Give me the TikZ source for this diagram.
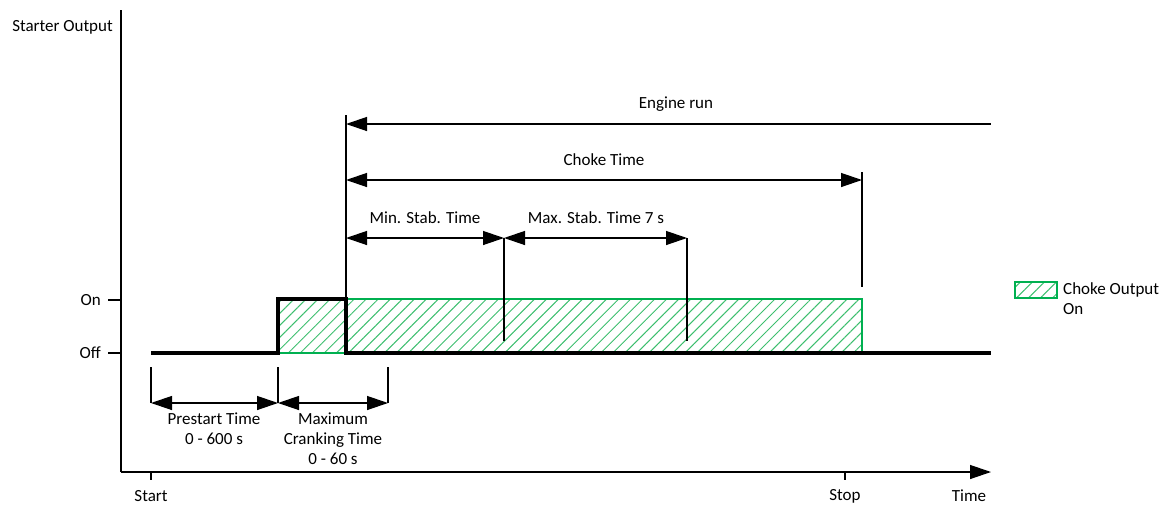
\documentclass[tikz,border=0pt]{standalone}
\usepackage{fontspec}
\setmainfont{Carlito}
\usetikzlibrary{arrows.meta,patterns.meta}
\definecolor{chokegreen}{RGB}{0,176,80}
\definecolor{hatchgreen}{RGB}{60,190,110}
\tikzset{
  lbl/.style={inner sep=0pt, font=\fontsize{17}{20}\selectfont, align=center},
  thin/.style={line width=1.3pt, black},
  thick signal/.style={line width=3.5pt, black, line join=miter},
  dim/.style={thin, {Triangle[length=21pt,width=14pt]}-{Triangle[length=21pt,width=14pt]}},
  dimleft/.style={thin, {Triangle[length=21pt,width=14pt]}-},
  axis/.style={thin, -{Triangle[length=21pt,width=14pt]}},
  choke/.style={draw=chokegreen, line width=1.3pt, pattern={Lines[angle=45,distance=8.5pt,line width=1pt]}, pattern color=hatchgreen},
}
\begin{document}
\begin{tikzpicture}[x=1pt,y=-1pt]
\useasboundingbox (0,0) rectangle (1173,509);
% axes
\coordinate (o) at (121,472);
\coordinate (ytop) at (121,10);
\coordinate (xend) at (991,472);
\draw[thin] (o) -- (ytop);
\draw[axis] (o) -- (xend);
\node[lbl, anchor=east] (ylab) at (113,27) {Starter Output};
% on/off ticks
\coordinate (onl) at (108,300); \coordinate (onr) at (121,300);
\coordinate (offl) at (108,353); \coordinate (offr) at (121,353);
\draw[thin] (onl) -- (onr);
\draw[thin] (offl) -- (offr);
\node[lbl, anchor=east] (on) at (101,300) {On};
\node[lbl, anchor=east] (off) at (101,353) {Off};
% start/stop ticks
\coordinate (st1) at (151,472); \coordinate (st2) at (151,480);
\coordinate (sp1) at (845,472); \coordinate (sp2) at (845,480);
\draw[thin] (st1) -- (st2);
\draw[thin] (sp1) -- (sp2);
\node[lbl] (start) at (151,496) {Start};
\node[lbl] (stop) at (845,496) {Stop};
\node[lbl] (time) at (969,496) {Time};
% choke hatch
\path[choke] (278,299) rectangle (862,353);
% starter signal
\coordinate (s0) at (151,353);
\coordinate (s1) at (278,353);
\coordinate (s2) at (278,299);
\coordinate (s3) at (346,299);
\coordinate (s4) at (346,353);
\coordinate (s5) at (991,353);
\draw[thick signal] (s0) -- (s1) -- (s2) -- (s3) -- (s4) -- (s5);
% vertical markers
\coordinate (v1t) at (346,115); \coordinate (v1b) at (346,353);
\draw[thin] (v1t) -- (v1b);
\coordinate (v2t) at (862,172); \coordinate (v2b) at (862,287);
\draw[thin] (v2t) -- (v2b);
\coordinate (v3t) at (504,238); \coordinate (v3b) at (504,341);
\draw[thin] (v3t) -- (v3b);
\coordinate (v4t) at (687,238); \coordinate (v4b) at (687,341);
\draw[thin] (v4t) -- (v4b);
% engine run
\coordinate (er1) at (346,124); \coordinate (er2) at (991,124);
\draw[dimleft] (er1) -- (er2);
\node[lbl] (erl) at (676,104) {Engine run};
% choke time
\coordinate (ct1) at (346,180); \coordinate (ct2) at (862,180);
\draw[dim] (ct1) -- (ct2);
\node[lbl] (ctl) at (604,160) {Choke Time};
% stab times
\coordinate (mn1) at (346,238); \coordinate (mn2) at (504,238);
\draw[dim] (mn1) -- (mn2);
\node[lbl] (mnl) at (425,218) {Min. Stab. Time};
\coordinate (mx2) at (687,238);
\draw[dim] (mn2) -- (mx2);
\node[lbl] (mxl) at (596,218) {Max. Stab. Time 7 s};
% bottom dims
\coordinate (b1t) at (151,367); \coordinate (b1b) at (151,403);
\coordinate (b2t) at (278,367); \coordinate (b2b) at (278,403);
\coordinate (b3t) at (388,367); \coordinate (b3b) at (388,403);
\draw[thin] (b1t) -- (b1b);
\draw[thin] (b2t) -- (b2b);
\draw[thin] (b3t) -- (b3b);
\draw[dim] (b1b) -- (b2b);
\draw[dim] (b2b) -- (b3b);
\node[lbl, anchor=north] (psl) at (214,413) {Prestart Time\\0 - 600 s};
\node[lbl, anchor=north] (mcl) at (333,413) {Maximum\\Cranking Time\\0 - 60 s};
% legend
\path[choke] (1015,282) rectangle (1057,298);
\node[lbl, anchor=north west, align=left] (leg) at (1063,282) {Choke Output\\On};
\end{tikzpicture}
\end{document}
